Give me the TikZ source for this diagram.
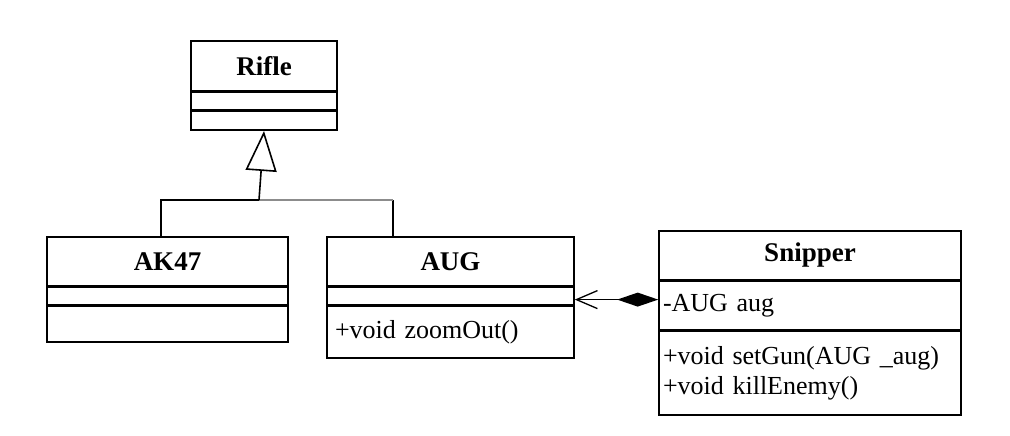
\documentclass[tikz,border=0pt]{standalone}
\usepackage{fontspec}
\setmainfont{Liberation Serif}
\usetikzlibrary{positioning,arrows.meta,calc}

\begin{document}
\begin{tikzpicture}[x=1pt,y=1pt,
  title/.style={draw,line width=1.6pt,inner sep=0pt,minimum height=49pt,
    font=\fontsize{27}{32}\selectfont\bfseries},
  part/.style={draw,line width=1.6pt,align=left,inner xsep=8pt,inner ysep=0pt,
    font=\fontsize{26}{30}\selectfont},
  gen/.style={-{Triangle[open,length=40pt,width=31pt]},line width=1.6pt},
  comp/.style={{Diamond[length=41pt,width=14pt]}-{Straight Barb[length=21pt,width=18pt,line width=1.3pt]},
    line width=1.6pt}]
\useasboundingbox (0,0) rectangle (1010,-436);
% Rifle
\node[title,minimum width=146pt,minimum height=50pt] (rifle) at (264,-66) {Rifle};
\node[part,text width=130pt,minimum height=17pt,below=0pt of rifle] (rifleattr) {};
\node[part,text width=130pt,minimum height=19pt,below=0pt of rifleattr] (rifleops) {};
% AK47
\node[title,minimum width=241pt] (ak) at (167.5,-261.5) {AK47};
\node[part,text width=225pt,minimum height=17pt,below=0pt of ak] (akattr) {};
\node[part,text width=225pt,minimum height=36pt,below=0pt of akattr] (akops) {};
% AUG
\node[title,minimum width=247pt] (aug) at (450.5,-261.5) {AUG};
\node[part,text width=231pt,minimum height=17pt,below=0pt of aug] (augattr) {};
\node[part,text width=231pt,minimum height=52pt,below=0pt of augattr] (augops) {+void zoomOut()};
% Snipper
\node[title,minimum width=302pt] (snip) at (810,-255.5) {Snipper};
\node[part,text width=294pt,inner xsep=4pt,minimum height=48pt,below=0pt of snip] (snipattr) {-AUG aug};
\node[part,text width=294pt,inner xsep=4pt,minimum height=84pt,below=0pt of snipattr] (snipops)
  {+void setGun(AUG \_aug)\\+void killEnemy()};
% generalisation
\coordinate (join) at (259,-200);
\coordinate (akup) at ($(ak.north west)+(115,0)$);
\coordinate (augup) at ($(aug.north west)+(67,0)$);
\draw[line width=1.6pt] (akup) |- (join);
\draw[line width=1.6pt] (augup) -- (augup |- join);
\draw[line width=1.6pt,black!45] (augup |- join) -- (join);
\draw[gen] (join) -- (rifleops.south);
% composition
\coordinate (gunend) at ([yshift=-3.5pt]augattr.east);
\draw[comp] (snipattr.west |- gunend) -- (gunend);
\end{tikzpicture}
\end{document}
